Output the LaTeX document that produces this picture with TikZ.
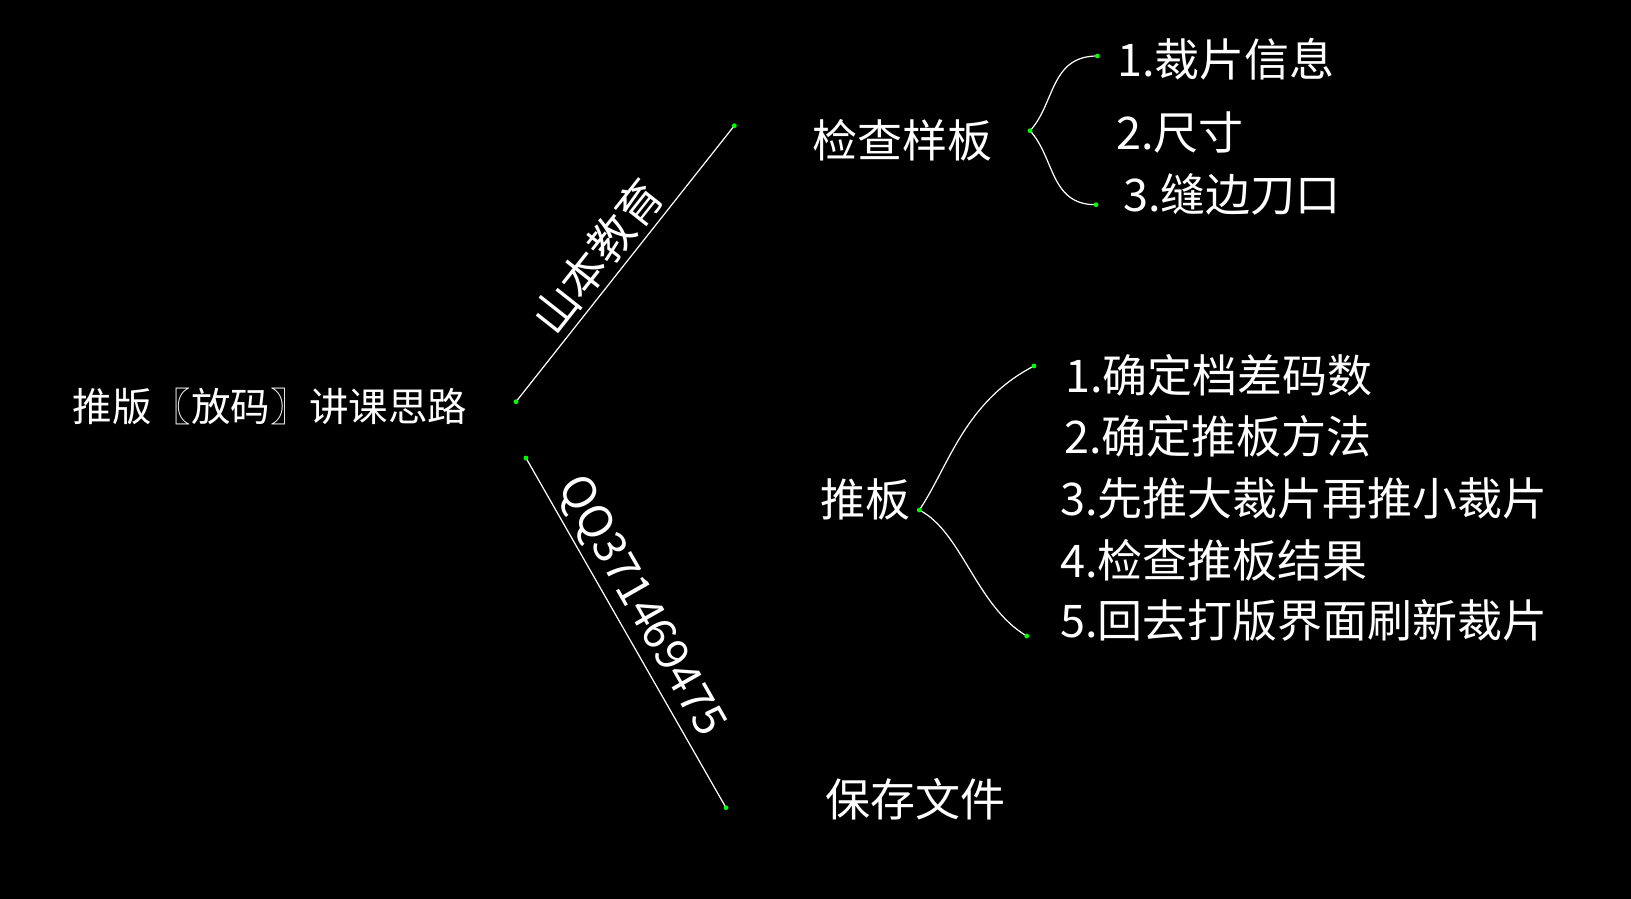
\documentclass[tikz,border=0pt]{standalone}
\usepackage{fontspec}
\newfontfamily\cjk{Noto Sans CJK SC}
\usepackage{tikz}
\definecolor{lv}{RGB}{0,255,0}

\tikzset{
  wz/.style={text=white, inner sep=0pt, font=\cjk\fontsize{45}{54}\selectfont},
  xian/.style={white, line width=1.2pt},
  lvdian/.style={fill=lv, draw=none},
}

\begin{document}
\begin{tikzpicture}[x=1pt,y=-1pt]
        % 点的半径
        \newcommand{\dianr}{2.4}

        % 黑色底
        \fill[black] (0,0) rectangle (1631,899);
        \useasboundingbox (0,0) rectangle (1631,899);

        % 主题
        \node[wz, font=\cjk\fontsize{39.5}{48}\selectfont] (zhuti) at (270,406) {推版〖放码〗讲课思路};

        % 三个分支
        \node[wz] (yangban) at (902,140.5) {检查样板};
        \node[wz] (tuiban) at (865,499.5) {推板};
        \node[wz] (baocun) at (915,799.5) {保存文件};

        % 斜线端点
        \coordinate (sA) at (516,401.7);
        \coordinate (sB) at (734.3,125.7);
        \coordinate (xA) at (526,458);
        \coordinate (xB) at (726,807.7);

        \draw[xian] (sA) -- node[wz, sloped, above=5pt, pos=0.468] (jiaoyu) {山本教育} (sB);
        \draw[xian] (xA) -- node[wz, sloped, above=4pt, pos=0.461] (qq) {QQ371469475} (xB);

        % 上面的括号
        \coordinate (kA) at (1030,130.7);
        \coordinate (kA1) at (1097.3,56);
        \coordinate (kA2) at (1096,204.7);
        \draw[xian] (kA) .. controls (1055,104) and (1050,56) .. (kA1);
        \draw[xian] (kA) .. controls (1055,158) and (1050,205) .. (kA2);

        % 下面的括号
        \coordinate (kB) at (919.3,510);
        \coordinate (kB1) at (1034,366);
        \coordinate (kB2) at (1026.7,636);
        \draw[xian] (kB) .. controls (948,468) and (964,402) .. (kB1);
        \draw[xian] (kB) .. controls (962,532) and (976,606) .. (kB2);

        % 检查样板的内容
        \node[wz, anchor=west] (ya1) at (1117,59) {1.裁片信息};
        \node[wz, anchor=west] (ya2) at (1116,132) {2.尺寸};
        \node[wz, anchor=west] (ya3) at (1123,194) {3.缝边刀口};

        % 推板的内容
        \node[wz, anchor=west] (tb1) at (1065,375) {1.确定档差码数};
        \node[wz, anchor=west] (tb2) at (1064,436) {2.确定推板方法};
        \node[wz, anchor=west] (tb3) at (1060,499) {3.先推大裁片再推小裁片};
        \node[wz, anchor=west] (tb4) at (1060,560) {4.检查推板结果};
        \node[wz, anchor=west] (tb5) at (1060,620) {5.回去打版界面刷新裁片};

        % 绿点
        \foreach \p in {sA,sB,xA,xB,kA,kA1,kA2,kB,kB1,kB2}
          \fill[lvdian] (\p) circle (\dianr);
\end{tikzpicture}
\end{document}
